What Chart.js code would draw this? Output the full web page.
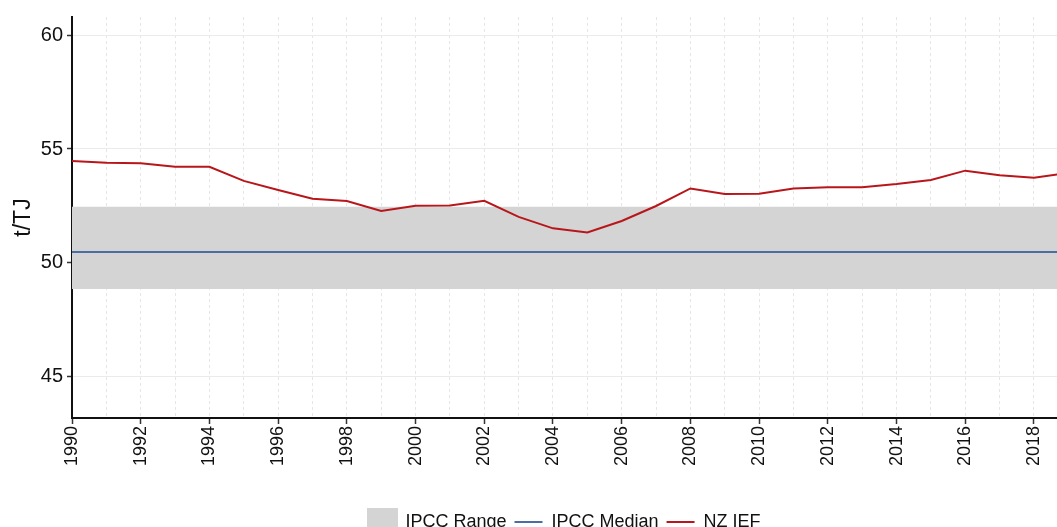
<!DOCTYPE html>
<html>
<head>
<meta charset="utf-8">
<script src="https://cdn.jsdelivr.net/npm/chart.js@4"></script>
<style>
  html, body { margin: 0; padding: 0; background: #fff; }
  #wrap { width: 1057px; height: 527px; }
</style>
</head>
<body>
<div id="wrap"><canvas id="iefChart"></canvas></div>
<script>
const years = [1990, 1991, 1992, 1993, 1994, 1995, 1996, 1997, 1998, 1999,
  2000, 2001, 2002, 2003, 2004, 2005, 2006, 2007, 2008, 2009,
  2010, 2011, 2012, 2013, 2014, 2015, 2016, 2017, 2018, 2019];
const nzIef = [54.47, 54.40, 54.37, 54.22, 54.22, 53.60, 53.20, 52.82, 52.72, 52.28,
  52.51, 52.52, 52.73, 52.02, 51.52, 51.34, 51.84, 52.50, 53.27, 53.03,
  53.04, 53.27, 53.32, 53.32, 53.46, 53.64, 54.05, 53.85, 53.74, 53.95];
const ipccLower = 48.86;
const ipccUpper = 52.47;
const ipccMedian = 50.48;
const yTicks = [45, 50, 55, 60];

const xMin = 1990;
const xMax = 2018.67;

function flat(v) {
  return [{ x: years[0], y: v }, { x: years[years.length - 1], y: v }];
}

// grey square for the range legend entry
const rangeSwatch = document.createElement("canvas");
rangeSwatch.width = 31;
rangeSwatch.height = 28;
const sctx = rangeSwatch.getContext("2d");
sctx.fillStyle = "#d4d4d4";
sctx.fillRect(0, 0, 31, 28);

const font = "'Liberation Sans', Arial, sans-serif";

new Chart(document.getElementById("iefChart"), {
  type: "line",
  data: {
    datasets: [
      {
        label: "IPCC Range",
        data: flat(ipccUpper),
        borderWidth: 0,
        borderColor: "rgba(0,0,0,0)",
        backgroundColor: "#d4d4d4",
        pointRadius: 0,
        fill: "+1",
        order: 3
      },
      {
        label: "_lower",
        data: flat(ipccLower),
        borderWidth: 0,
        borderColor: "rgba(0,0,0,0)",
        pointRadius: 0,
        fill: false,
        order: 3
      },
      {
        label: "IPCC Median",
        data: flat(ipccMedian),
        borderColor: "#4a6ea3",
        borderWidth: 2,
        pointRadius: 0,
        order: 2
      },
      {
        label: "NZ IEF",
        data: years.map((y, i) => ({ x: y, y: nzIef[i] })),
        borderColor: "#b8161b",
        borderWidth: 2,
        pointRadius: 0,
        tension: 0,
        order: 1
      }
    ]
  },
  options: {
    responsive: true,
    maintainAspectRatio: false,
    animation: false,
    layout: { padding: { top: 17, right: 0, left: 0, bottom: -14 } },
    plugins: {
      tooltip: { enabled: false },
      legend: {
        position: "bottom",
        fullSize: false,
        labels: {
          usePointStyle: true,
          pointStyleWidth: 28,
          padding: 8,
          color: "#111",
          font: { family: font, size: 18 },
          generateLabels: (chart) => {
            const ds = chart.data.datasets;
            return [0, 2, 3].map((i) => ({
              text: ds[i].label,
              datasetIndex: i,
              fillStyle: i === 0 ? "#d4d4d4" : ds[i].borderColor,
              strokeStyle: i === 0 ? "#d4d4d4" : ds[i].borderColor,
              lineWidth: 2,
              pointStyle: i === 0 ? rangeSwatch : "line",
              fontColor: "#111"
            }));
          }
        }
      }
    },
    scales: {
      x: {
        type: "linear",
        min: xMin,
        max: xMax,
        afterFit: (s) => {
          s.height = 87;
          s.paddingLeft = 0;
          s.paddingRight = 0;
        },
        ticks: {
          stepSize: 1,
          includeBounds: false,
          autoSkip: false,
          minRotation: 90,
          maxRotation: 90,
          padding: 2,
          color: "#111",
          font: { family: font, size: 18 },
          callback: (v) => (v % 2 === 0 ? String(v) : "")
        },
        grid: {
          color: "#e6e6e6",
          lineWidth: 1,
          tickLength: 6,
          tickWidth: 1.5,
          tickBorderDash: [],
          tickColor: (ctx) =>
            ctx.tick && ctx.tick.value % 2 === 0 ? "#333" : "rgba(0,0,0,0)"
        },
        border: { display: true, color: "#111", width: 2, dash: [3, 3] }
      },
      y: {
        min: 43.2,
        max: 60.79,
        afterFit: (s) => {
          s.width = 72;
          s.paddingTop = 0;
          s.paddingBottom = 0;
        },
        afterBuildTicks: (s) => {
          s.ticks = yTicks.map((v) => ({ value: v }));
        },
        ticks: {
          padding: 4,
          color: "#111",
          font: { family: font, size: 20 },
          callback: (v) => String(v)
        },
        grid: {
          color: "#ebebeb",
          lineWidth: 1,
          tickLength: 5,
          tickWidth: 1.5,
          tickColor: "#333"
        },
        border: { display: true, color: "#111", width: 2 },
        title: {
          display: true,
          text: "t/TJ",
          color: "#111",
          font: { family: font, size: 23 },
          padding: { top: 10, bottom: 0 }
        }
      }
    }
  }
});
</script>
</body>
</html>
